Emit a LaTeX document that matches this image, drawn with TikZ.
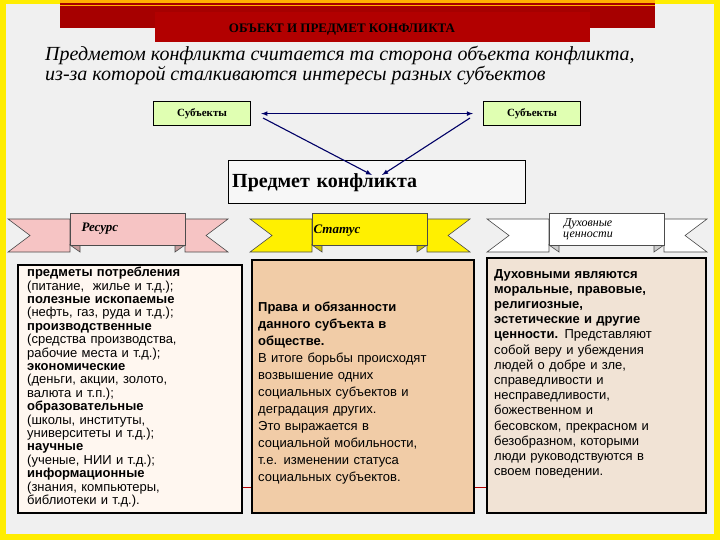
\documentclass[tikz,border=0pt]{standalone}
\usepackage{fontspec}
\setmainfont{Liberation Serif}
\setsansfont{Liberation Sans}
\usetikzlibrary{calc}
\definecolor{rpink}{RGB}{246,196,196}
\definecolor{ryel}{RGB}{255,240,0}
\definecolor{rwhite}{RGB}{255,255,255}
\begin{document}
\begin{tikzpicture}[x=1pt,y=-1pt,
  subj/.style={draw=black,line width=1.2pt,fill=green!20!lime!30,minimum width=97pt,minimum height=24pt,anchor=north west,inner sep=3pt,font=\bfseries\fontsize{11}{12}\selectfont},
  arr/.style={draw=blue!40!black,line width=1.1pt,-latex},
  tail/.style={draw=black!70,line width=0.6pt},
  face/.style={draw=black!70,line width=0.6pt},
  cbox/.style={anchor=north west,align=left,inner sep=0pt,font=\sffamily\fontsize{13}{13.4}\selectfont}]
\useasboundingbox (0,0) rectangle (720,540);
\fill[yellow!95!orange] (0,0) rectangle (720,540);
\fill[gray!12] (6,4) rectangle (714,534);
% title band
\fill[red!65!black] (60,0) rectangle (655,28);
\fill[orange!60!yellow] (60,0) rectangle (655,3);
\fill[orange!60!yellow] (60,5) rectangle (655,6.5);
\fill[red!70!black] (155,12) rectangle (590,42);
\node[font=\bfseries\fontsize{13}{14}\selectfont] (title) at (342,30) {ОБЪЕКТ И ПРЕДМЕТ КОНФЛИКТА};
\node[anchor=north west,align=left,font=\itshape\fontsize{20}{15}\selectfont,inner sep=0pt] (def) at (45,46) {Предметом конфликта считается та сторона объекта конфликта,\\из-за которой сталкиваются интересы разных субъектов};
\node[subj] (s1) at (153,101) {Субъекты};
\node[subj] (s2) at (483,101) {Субъекты};
\node[draw=black,line width=1.4pt,fill=gray!6,minimum width=297pt,minimum height=43pt,anchor=north west,inner sep=3pt,align=left,text width=290pt,font=\bfseries\fontsize{20}{22}\selectfont] (pk) at (228,160) {Предмет конфликта};
\coordinate (pa) at (372,175);
\coordinate (pb) at (382,175);
\draw[arr,latex-latex] ($(s1.east)+(10,0)$) -- ($(s2.west)+(-10,0)$);
\draw[arr] (263,118) -- (pa);
\draw[arr] (470,118) -- (pb);
% ribbons
\foreach \x/\c in {8/rpink,250/ryel,487/rwhite}{
  \filldraw[tail,fill=\c] (\x,219) -- (\x+62,219) -- (\x+62,252) -- (\x,252) -- (\x+22,235.5) -- cycle;
  \filldraw[tail,fill=\c] (\x+177,219) -- (\x+220,219) -- (\x+198,235.5) -- (\x+220,252) -- (\x+177,252) -- cycle;
  \filldraw[face,fill=\c!80!black] (\x+62,245) -- (\x+72,252) -- (\x+72,245) -- cycle;
  \filldraw[face,fill=\c!80!black] (\x+177,245) -- (\x+167,252) -- (\x+167,245) -- cycle;
  \filldraw[face,fill=\c] (\x+62,213) rectangle (\x+177,245);
}
\node[font=\bfseries\itshape\fontsize{13}{14}\selectfont,anchor=west] (l1) at (78,229) {Ресурс};
\node[font=\bfseries\itshape\fontsize{13}{14}\selectfont,anchor=west] (l2) at (310,231) {Статус};
\node[font=\itshape\fontsize{12}{11}\selectfont,align=center] (l3) at (588,229) {Духовные\\ценности};
% red line behind
\draw[red!70!black,line width=1pt] (230,487) -- (500,487);
% boxes
\filldraw[draw=black,line width=1.3pt,fill=orange!6] (18,265) rectangle (242,513);
\filldraw[draw=black,line width=1.3pt,fill=orange!45!brown!40] (252,260) rectangle (474,513);
\filldraw[draw=black,line width=1.3pt,fill=brown!22] (487,258) rectangle (706,513);
\node[cbox,text width=215pt] (b1) at (27,267) {\textbf{предметы потребления}\\(питание,\ \ жилье и т.д.);\\\textbf{полезные ископаемые}\\(нефть, газ, руда и т.д.);\\\textbf{производственные}\\(средства производства,\\рабочие места и т.д.);\\\textbf{экономические}\\(деньги, акции, золото,\\валюта и т.п.);\\\textbf{образовательные}\\(школы, институты,\\университеты и т.д.);\\\textbf{научные}\\(ученые, НИИ и т.д.);\\\textbf{информационные}\\(знания, компьютеры,\\библиотеки и т.д.).};
\node[cbox,text width=215pt,font=\sffamily\fontsize{13}{17}\selectfont] (b2) at (258,302) {\textbf{Права и обязанности}\\\textbf{данного субъекта в}\\\textbf{обществе.}\\В итоге борьбы происходят\\возвышение одних\\социальных субъектов и\\деградация других.\\Это выражается в\\социальной мобильности,\\т.е. изменении статуса\\социальных субъектов.};
\node[cbox,text width=215pt,font=\sffamily\fontsize{13}{15.2}\selectfont] (b3) at (494,269) {\textbf{Духовными являются}\\\textbf{моральные, правовые,}\\\textbf{религиозные,}\\\textbf{эстетические и другие}\\\textbf{ценности.} Представляют\\собой веру и убеждения\\людей о добре и зле,\\справедливости и\\несправедливости,\\божественном и\\бесовском, прекрасном и\\безобразном, которыми\\люди руководствуются в\\своем поведении.};
\end{tikzpicture}
\end{document}
